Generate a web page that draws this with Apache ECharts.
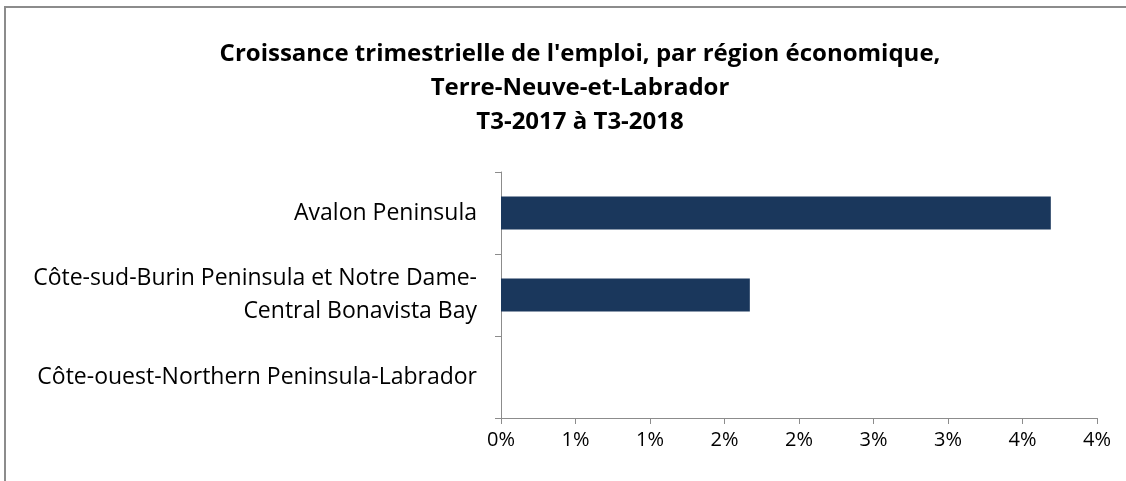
<!DOCTYPE html>
<html>
<head>
<meta charset="utf-8">
<script src="https://cdn.jsdelivr.net/npm/echarts@6/dist/echarts.min.js"></script>
<style>
  html, body { margin: 0; padding: 0; background: #fff; }
  #frame {
    position: absolute; left: 4px; top: 6px; right: 0; bottom: 0;
    border-top: 2px solid #8c8c8c; border-left: 2px solid #8c8c8c;
  }
  #chart { position: absolute; left: 0; top: 0; width: 1126px; height: 481px; }
</style>
</head>
<body>
<div id="frame"></div>
<div id="chart"></div>
<script>
// régions économiques, haut vers bas
const regions = [
  "Avalon Peninsula",
  "Côte-sud-Burin Peninsula et Notre Dame-\nCentral Bonavista Bay",
  "Côte-ouest-Northern Peninsula-Labrador",
];
// croissance de l'emploi, %
const growth = [3.69, 1.67, 0];

const titleLines = [
  "Croissance trimestrielle de l'emploi, par région économique,",
  "Terre-Neuve-et-Labrador",
  "T3-2017 à T3-2018",
];

const font = "Open Sans, sans-serif";

const chart = echarts.init(document.getElementById("chart"), null, { renderer: "canvas" });
chart.setOption({
  animation: false,
  title: {
    text: titleLines.join("\n"),
    left: 575,
    textAlign: "center",
    top: 32,
    textStyle: {
      fontFamily: font,
      fontWeight: "bold",
      fontSize: 24,
      lineHeight: 34,
      color: "#000",
    },
  },
  grid: { left: 501, right: 29, top: 172, bottom: 63 },
  xAxis: {
    type: "value",
    min: 0,
    max: 4,
    interval: 0.5,
    splitLine: { show: false },
    axisLine: { show: true, lineStyle: { color: "#8c8c8c", width: 1 } },
    axisTick: { show: true, length: 6, lineStyle: { color: "#8c8c8c" } },
    axisLabel: {
      formatter: (v) => Math.round(v) + "%",
      fontFamily: font,
      fontSize: 20,
      color: "#000",
      margin: 12,
    },
  },
  yAxis: {
    type: "category",
    inverse: true,
    data: regions,
    axisLine: { show: true, lineStyle: { color: "#8c8c8c", width: 1 } },
    axisTick: { show: true, length: 6, lineStyle: { color: "#8c8c8c" } },
    axisLabel: {
      fontFamily: font,
      fontSize: 23,
      lineHeight: 33,
      color: "#000",
      margin: 24,
      align: "right",
    },
  },
  series: [
    {
      type: "bar",
      data: growth,
      barWidth: "40%",
      itemStyle: { color: "#1a375c" },
    },
  ],
});
</script>
</body>
</html>
